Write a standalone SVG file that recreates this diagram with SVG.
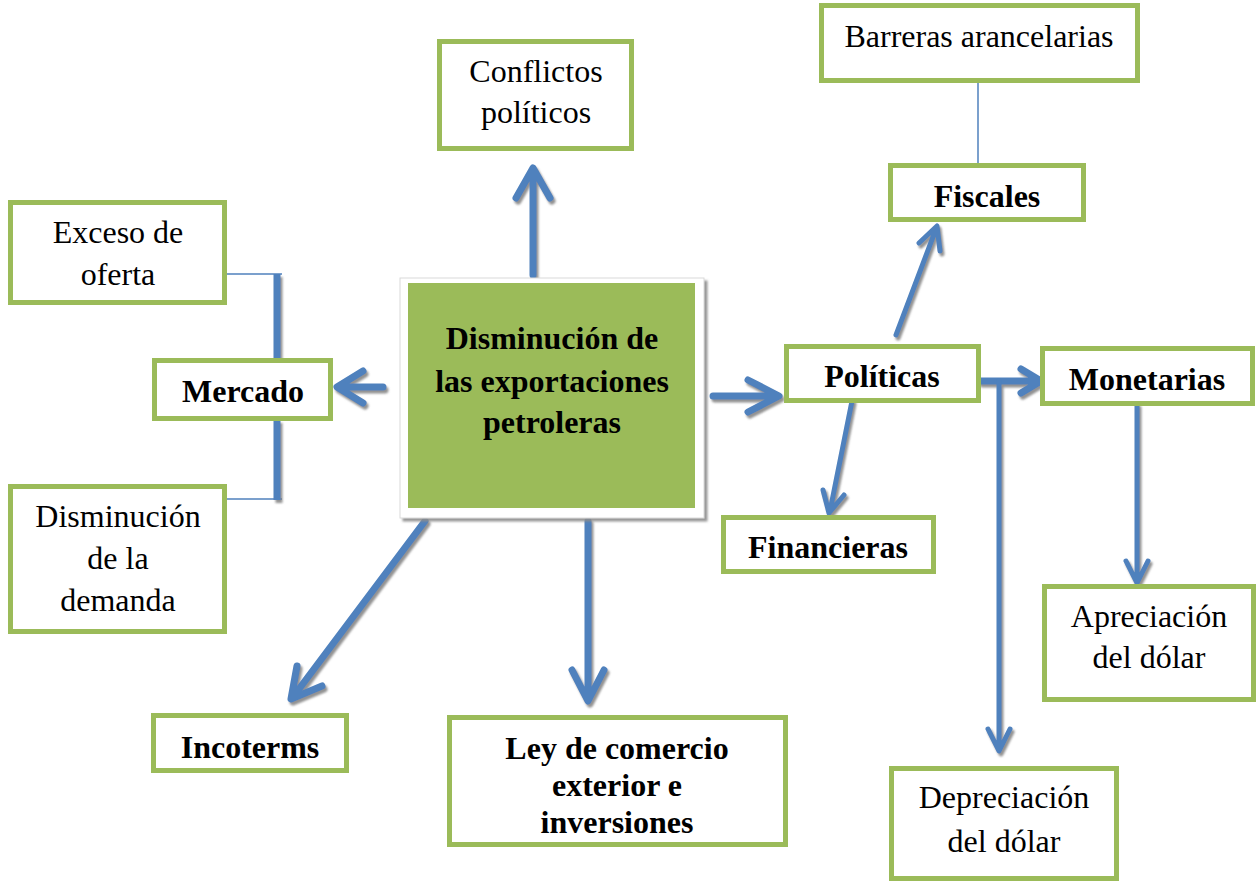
<svg xmlns="http://www.w3.org/2000/svg" width="1258" height="881" viewBox="0 0 1258 881">
<defs>
<filter id="sh" x="-20%" y="-20%" width="140%" height="140%">
<feDropShadow dx="2" dy="3" stdDeviation="1" flood-color="#7f7f7f" flood-opacity="0.85"/>
</filter>
<filter id="bsh" x="-5%" y="-5%" width="110%" height="110%">
<feDropShadow dx="3" dy="3" stdDeviation="1.2" flood-color="#8c8c8c" flood-opacity="0.9"/>
</filter>
</defs>
<style>
.box{fill:#fff;stroke:#9BBB59;stroke-width:5}
.t{font-family:"Liberation Serif","Times New Roman",serif;font-size:32px;fill:#000;text-anchor:middle}
.b{font-weight:bold}
.a{fill:none;stroke:#4F81BD;stroke-linecap:round;stroke-linejoin:round}
.w7{stroke-width:7}
.w5{stroke-width:5}
.thin{fill:none;stroke:#4F81BD;stroke-width:1.5}
</style>
<rect width="1258" height="881" fill="#fff"/>

<g id="connectors">
<line class="thin" x1="978" y1="83" x2="978" y2="164"/>
<line class="thin" x1="227" y1="274" x2="282" y2="274"/>
<line class="thin" x1="227" y1="499" x2="282" y2="499"/>
<g filter="url(#sh)">
<line x1="277" y1="274" x2="277" y2="359" stroke="#4F81BD" stroke-width="7"/>
<line x1="277" y1="420" x2="277" y2="500" stroke="#4F81BD" stroke-width="7"/>
<path class="a w7" d="M533,275 L533,170 M516,198 L533,168 L550,198"/>
<path class="a w7" d="M383,387 L339,387 M363,371 L337,387 L363,403"/>
<path class="a w7" d="M713,396 L777,396 M748,380 L779,396 L748,412"/>
<path class="a w5" d="M896,335 L936,229 M919,243 L937,226 L940,251"/>
<path class="a w7" d="M981,381 L1039,381 M1021,369 L1041,381 L1021,393"/>
<path class="a w5" d="M999,381 L999,749 M988,729 L999,751 L1010,729"/>
<path class="a w5" d="M852,401 L830,511 M823,490 L829,513 L844,495"/>
<path class="a w5" d="M1137,405 L1137,580 M1126,561 L1137,583 L1148,561"/>
<path class="a w7" d="M425,521 L293,697 M297,666 L291,699 L322,686"/>
<path class="a w7" d="M588,521 L588,699 M572,670 L588,701 L604,670"/>
</g>
</g>

<g id="center">
<rect x="400" y="278" width="304" height="240" fill="#fff" stroke="#d9d9d9" stroke-width="1" filter="url(#bsh)"/>
<rect x="408" y="283" width="287" height="225" fill="#9BBB59"/>
<text class="t b" x="552" y="349">Disminución de</text>
<text class="t b" x="552" y="392">las exportaciones</text>
<text class="t b" x="552" y="433">petroleras</text>
</g>

<g id="conflictos">
<rect class="box" x="439.5" y="41.5" width="192" height="107"/>
<text class="t" x="536" y="82">Conflictos</text>
<text class="t" x="536" y="123">políticos</text>
</g>

<g id="barreras">
<rect class="box" x="821.5" y="5.5" width="316" height="75"/>
<text class="t" x="979" y="47">Barreras arancelarias</text>
</g>

<g id="fiscales">
<rect class="box" x="890.5" y="165.5" width="193" height="54"/>
<text class="t b" x="987" y="207">Fiscales</text>
</g>

<g id="exceso">
<rect class="box" x="10.5" y="202.5" width="214" height="100"/>
<text class="t" x="118" y="243">Exceso de</text>
<text class="t" x="118" y="285">oferta</text>
</g>

<g id="mercado">
<rect class="box" x="154.5" y="360.5" width="176" height="58"/>
<text class="t b" x="243" y="402">Mercado</text>
</g>

<g id="demanda">
<rect class="box" x="10.5" y="486.5" width="214" height="145"/>
<text class="t" x="118" y="527">Disminución</text>
<text class="t" x="118" y="569">de la</text>
<text class="t" x="118" y="611">demanda</text>
</g>

<g id="politicas">
<rect class="box" x="786.5" y="346.5" width="192" height="54"/>
<text class="t b" x="882" y="387">Políticas</text>
</g>

<g id="monetarias">
<rect class="box" x="1042.5" y="348.5" width="210" height="55"/>
<text class="t b" x="1147" y="390">Monetarias</text>
</g>

<g id="financieras">
<rect class="box" x="723.5" y="517.5" width="210" height="54"/>
<text class="t b" x="828" y="558">Financieras</text>
</g>

<g id="apreciacion">
<rect class="box" x="1044.5" y="586.5" width="209" height="113"/>
<text class="t" x="1149" y="627">Apreciación</text>
<text class="t" x="1149" y="668">del dólar</text>
</g>

<g id="depreciacion">
<rect class="box" x="891.5" y="768.5" width="225" height="110"/>
<text class="t" x="1004" y="808">Depreciación</text>
<text class="t" x="1004" y="852">del dólar</text>
</g>

<g id="incoterms">
<rect class="box" x="153.5" y="715.5" width="193" height="55"/>
<text class="t b" x="250" y="758">Incoterms</text>
</g>

<g id="ley">
<rect class="box" x="449.5" y="717.5" width="336" height="127"/>
<text class="t b" x="617" y="759">Ley de comercio</text>
<text class="t b" x="617" y="796">exterior e</text>
<text class="t b" x="617" y="833">inversiones</text>
</g>
</svg>
